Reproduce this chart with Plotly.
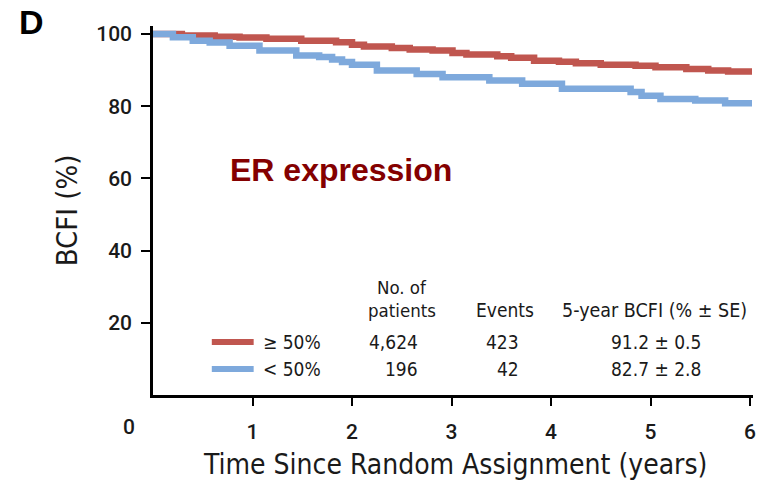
import plotly.graph_objects as go

# Kaplan-Meier step data: breast-cancer-free interval (%) by ER expression
t_high = [0.0, 0.29, 0.62, 0.87, 1.14, 1.49, 1.84, 2.00, 2.12, 2.40, 2.58, 2.81,
          3.01, 3.15, 3.46, 3.60, 3.83, 4.08, 4.25, 4.50, 4.85, 5.05, 5.36, 5.58,
          5.78, 6.02]
s_high = [100.0, 99.6, 99.2, 99.0, 98.7, 98.1, 97.7, 97.0, 96.5, 96.1, 95.7, 95.4,
          94.7, 94.3, 93.8, 93.4, 92.6, 92.3, 91.9, 91.5, 91.2, 90.8, 90.3, 89.9,
          89.6, 89.6]

t_low = [0.0, 0.20, 0.40, 0.57, 0.77, 1.07, 1.44, 1.67, 1.80, 1.90, 2.00, 2.25,
         2.65, 2.91, 3.38, 3.71, 4.11, 4.80, 4.91, 5.10, 5.45, 5.75, 6.02]
s_low = [100.0, 99.1, 98.1, 97.6, 96.7, 95.4, 94.0, 93.6, 92.9, 92.2, 91.5, 89.9,
         88.9, 88.0, 87.1, 86.2, 84.8, 83.9, 82.9, 82.0, 81.6, 80.8, 80.8]

groups = ["\u2265 50%", "< 50%"]
n_patients = ["4,624", "196"]
events = ["423", "42"]
bcfi_5yr = ["91.2 \u00b1 0.5", "82.7 \u00b1 2.8"]
colors = ["#C0564F", "#7EA9DC"]

x_ticks = [1, 2, 3, 4, 5, 6]
y_ticks = [20, 40, 60, 80, 100]

W, H = 768, 481
L, R, T, B = 153, 13, 26, 86
PW, PH = W - L - R, H - T - B

NARROW = "DejaVu Sans Condensed, Liberation Sans Narrow, Arial Narrow, sans-serif"
TICKF = "Roboto, Liberation Sans, Arial, sans-serif"
BOLD = "Liberation Sans, Arial, sans-serif"


def px(x):
    return (x - L) / PW


def py(y):
    return (H - B - y) / PH


fig = go.Figure()
for t, s, c, g in [(t_high, s_high, colors[0], groups[0]),
                   (t_low, s_low, colors[1], groups[1])]:
    fig.add_trace(go.Scatter(x=t, y=s, mode="lines", line_shape="hv",
                             line=dict(color=c, width=6.5), name=g,
                             showlegend=False, hoverinfo="skip"))

ann = []


def text(x, y, s, size, family=NARROW, color="#1a1a1a", xanchor="center",
         weight="normal", angle=0):
    ann.append(dict(x=px(x), y=py(y), xref="paper", yref="paper", text=s,
                    showarrow=False, xanchor=xanchor, yanchor="middle",
                    textangle=angle,
                    font=dict(size=size, family=family, color=color,
                              weight=weight)))


# panel letter and inset label
text(31, 22, "D", 34, family=BOLD, color="#000000", weight="bold")
text(342, 170, "ER expression", 32, family=BOLD, color="#840000", weight="bold")

# shared origin label and axis titles
text(129, 427, "0", 21, family=TICKF, weight=500)
text(456, 464, "Time Since Random Assignment (years)", 28)
text(67, 210, "BCFI (%)", 29, angle=-90)

# summary table
text(403, 287, "No. of", 18.5)
text(403, 310, "patients", 18.5)
text(506, 310, "Events", 19)
text(656, 310, "5-year BCFI (% \u00b1 SE)", 19.5)
row_y = [342, 369]
for i in range(2):
    text(261, row_y[i], groups[i], 19, xanchor="left")
    text(421, row_y[i], n_patients[i], 19, xanchor="right")
    text(522, row_y[i], events[i], 19, xanchor="right")
    text(658, row_y[i], bcfi_5yr[i], 19)

shapes = []
for i in range(2):
    shapes.append(dict(type="line", xref="paper", yref="paper",
                       x0=px(212), x1=px(254), y0=py(row_y[i]), y1=py(row_y[i]),
                       line=dict(color=colors[i], width=6)))

fig.update_layout(
    width=W, height=H,
    margin=dict(l=L, r=R, t=T, b=B, pad=0),
    paper_bgcolor="white", plot_bgcolor="white",
    annotations=ann, shapes=shapes,
    xaxis=dict(range=[0, 6.03], tickvals=x_ticks, ticks="outside", ticklen=8,
               tickwidth=1.5, tickcolor="#000", showline=True, linewidth=2.5,
               linecolor="#000", showgrid=False, zeroline=False,
               tickfont=dict(size=21, family=TICKF, color="#1a1a1a", weight=500),
               ticklabelstandoff=8),
    yaxis=dict(range=[0, 102.2], tickvals=y_ticks, ticks="outside", ticklen=9,
               tickwidth=1.5, tickcolor="#000", showline=True, linewidth=2.5,
               linecolor="#000", showgrid=False, zeroline=False,
               tickfont=dict(size=21, family=TICKF, color="#1a1a1a", weight=500),
               ticklabelstandoff=5),
)

fig.write_html("out.html")
